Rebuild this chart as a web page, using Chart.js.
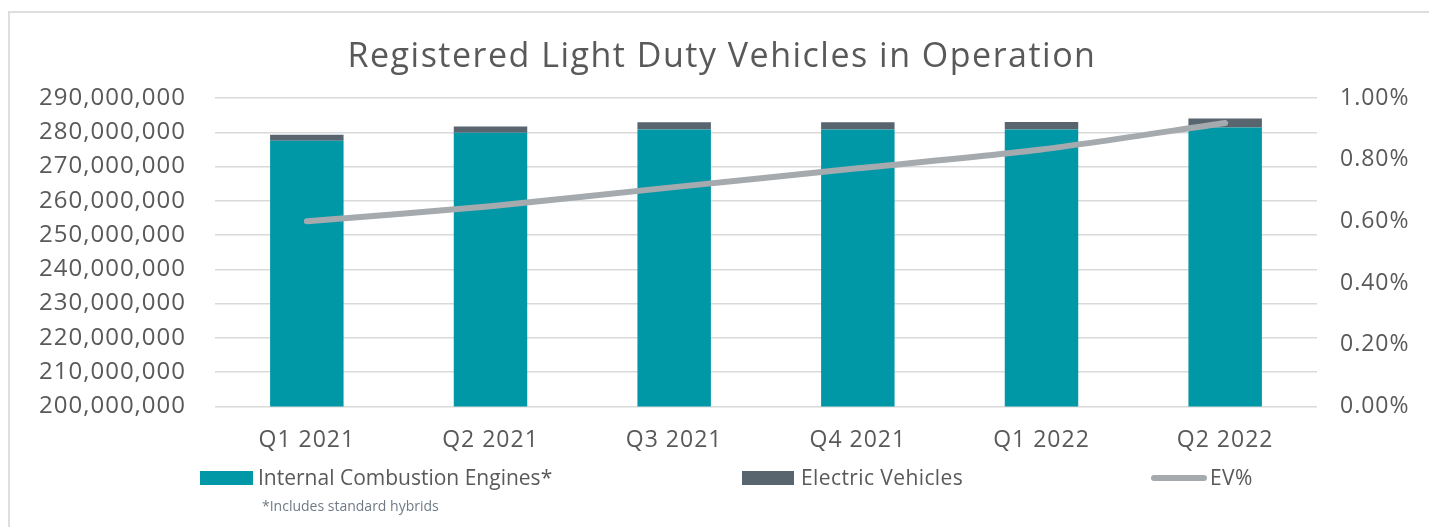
<!DOCTYPE html>
<html>
<head>
<meta charset="utf-8">
<script src="https://cdn.jsdelivr.net/npm/chart.js@4/dist/chart.umd.min.js"></script>
<style>
  body { margin: 0; background: #fff; overflow: hidden; }
  #wrap { position: relative; width: 1429px; height: 527px; }
  #frame { position: absolute; left: 8px; top: 11px; width: 1500px; height: 600px; border: 2px solid #dedede; }
  canvas { position: absolute; left: 0; top: 0; }
</style>
</head>
<body>
<div id="wrap">
  <div id="frame"></div>
  <canvas id="chart" width="1429" height="527"></canvas>
</div>
<script>
const quarters = ['Q1 2021', 'Q2 2021', 'Q3 2021', 'Q4 2021', 'Q1 2022', 'Q2 2022'];
const iceVehicles = [277560000, 279850000, 280800000, 280800000, 280800000, 281400000];
const electricVehicles = [1700000, 1850000, 2100000, 2100000, 2200000, 2600000];
const evPercent = [0.600, 0.649, 0.711, 0.772, 0.833, 0.919];

const FONT = '"Open Sans", sans-serif';
const TEXT = '#595959';
const TITLE = 'Registered Light Duty Vehicles in Operation';

// the original font runs wider, so widen tick text a little
const spacingPlugin = {
  id: 'spacing',
  beforeDraw(chart) {
    chart.ctx.letterSpacing = '1px';
  }
};

// title, legend and footnote drawn by hand so they sit like the original
const extrasPlugin = {
  id: 'extras',
  afterDraw(chart) {
    const ctx = chart.ctx;
    ctx.save();
    ctx.letterSpacing = '1.5px';
    ctx.font = '34px ' + FONT;
    ctx.fillStyle = TEXT;
    ctx.textAlign = 'center';
    ctx.textBaseline = 'middle';
    ctx.fillText(TITLE, 722, 57);

    ctx.textAlign = 'left';
    const items = [
      { x: 200, w: 53, gap: 5, ds: 0 },
      { x: 742, w: 52, gap: 7, ds: 1 },
      { x: 1151, w: 56, gap: 3, ds: 2 }
    ];
    const y = 478;
    ctx.font = '21px ' + FONT;
    items.forEach(it => {
      const ds = chart.data.datasets[it.ds];
      if (ds.type === 'line') {
        ctx.strokeStyle = ds.borderColor;
        ctx.lineWidth = 6;
        ctx.lineCap = 'round';
        ctx.beginPath();
        ctx.moveTo(it.x + 3, y);
        ctx.lineTo(it.x + it.w - 3, y);
        ctx.stroke();
      } else {
        ctx.fillStyle = ds.backgroundColor;
        ctx.fillRect(it.x, y - 7, it.w, 14);
      }
      ctx.fillStyle = TEXT;
      ctx.letterSpacing = it.ds === 0 ? '0px' : '0.4px';
      ctx.fillText(ds.label, it.x + it.w + it.gap, y + 1);
    });
    ctx.letterSpacing = '0px';
    ctx.font = '14px ' + FONT;
    ctx.fillStyle = '#6f7a85';
    ctx.fillText('*Includes standard hybrids', 262, 507);
    ctx.restore();
  }
};

new Chart(document.getElementById('chart'), {
  data: {
    labels: quarters,
    datasets: [
      {
        type: 'bar',
        label: 'Internal Combustion Engines*',
        data: iceVehicles,
        backgroundColor: '#0097a7',
        yAxisID: 'y',
        order: 1,
        barPercentage: 0.4,
        categoryPercentage: 1
      },
      {
        type: 'bar',
        label: 'Electric Vehicles',
        data: electricVehicles,
        backgroundColor: '#58656f',
        yAxisID: 'y',
        order: 1,
        barPercentage: 0.4,
        categoryPercentage: 1
      },
      {
        type: 'line',
        label: 'EV%',
        data: evPercent,
        borderColor: '#a5aaae',
        backgroundColor: '#a5aaae',
        borderWidth: 6,
        borderCapStyle: 'round',
        pointRadius: 0,
        tension: 0.25,
        yAxisID: 'y1',
        order: 0
      }
    ]
  },
  options: {
    responsive: false,
    animation: false,
    layout: { padding: { top: 98, bottom: 61, left: 0, right: 0 } },
    plugins: {
      legend: { display: false },
      tooltip: { enabled: false },
      title: { display: false }
    },
    scales: {
      x: {
        stacked: true,
        grid: { display: false },
        border: { display: false },
        ticks: { color: TEXT, font: { family: FONT, size: 23 }, padding: 12 }
      },
      y: {
        stacked: true,
        position: 'left',
        min: 200000000,
        max: 290000000,
        afterFit: s => { s.width = 215; },
        grid: { color: '#d9d9d9', lineWidth: 1.5, drawTicks: false },
        border: { display: false },
        ticks: {
          stepSize: 10000000,
          padding: 29,
          color: TEXT,
          font: { family: FONT, size: 24 },
          callback: v => v.toLocaleString('en-US')
        }
      },
      y1: {
        position: 'right',
        min: 0,
        max: 1,
        afterFit: s => { s.width = 112; },
        grid: { display: false, drawTicks: false },
        border: { display: false },
        ticks: {
          stepSize: 0.2,
          padding: 23,
          color: TEXT,
          font: { family: FONT, size: 23 },
          callback: v => v.toFixed(2) + '%'
        }
      }
    }
  },
  plugins: [spacingPlugin, extrasPlugin]
});
</script>
</body>
</html>
